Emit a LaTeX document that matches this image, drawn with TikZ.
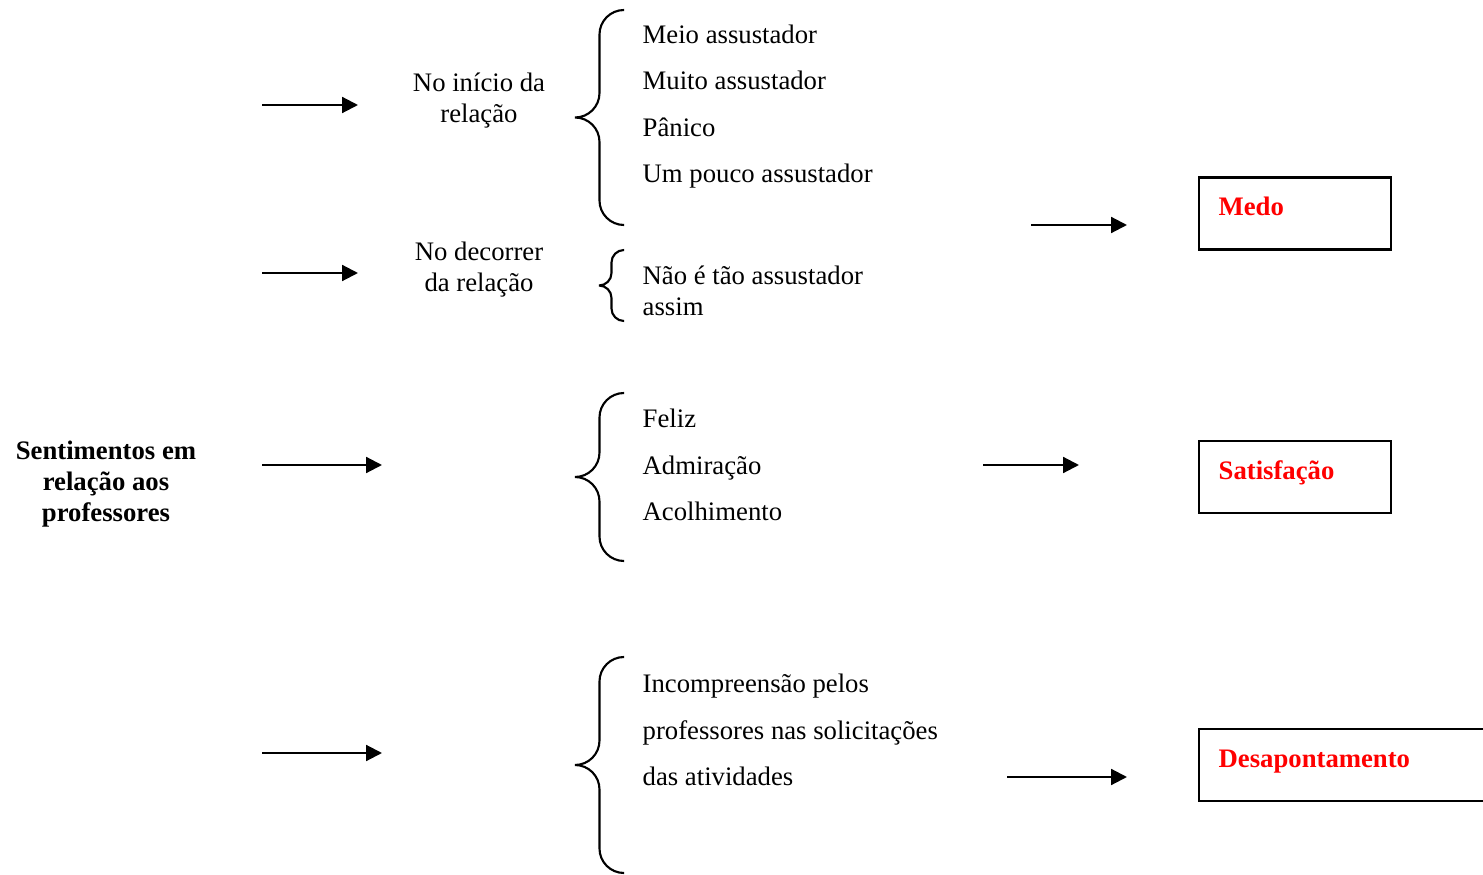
\documentclass[tikz,border=0pt]{standalone}
\usepackage{fontspec}
\setmainfont{Liberation Serif}
\usepackage{xcolor}
\usetikzlibrary{arrows.meta, calc}
\definecolor{tagred}{RGB}{255, 0, 0}

\begin{document}
\begin{tikzpicture}[
    topic/.style={font=\fontsize{7.6}{9.1}\selectfont, align=center, inner sep=0pt, anchor=base},
    mainTopic/.style={topic, font=\fontsize{7.6}{8.9}\selectfont\bfseries},
    itemList/.style={font=\fontsize{7.6}{13.2}\selectfont, align=left, inner sep=0pt, anchor=base west},
    tagBox/.style={draw, line width=0.6pt, minimum width=1.92cm, minimum height=0.72cm, inner sep=0pt},
    tagText/.style={font=\fontsize{7.6}{9}\selectfont\bfseries, text=tagred, inner sep=0pt, anchor=base west},
    edge/.style={draw, line width=0.6pt, -{Triangle[length=4.5pt, width=4.5pt]}},
    curl/.style={draw, line width=0.6pt}
]
\useasboundingbox (0,0) rectangle (14.83,8.74);
\clip (0,0) rectangle (14.83,8.74);

% Left: main topic (placed at the baseline of its last line)
\node[mainTopic] (sentimentos) at (1.06, 3.52) {Sentimentos em\\relação aos\\professores};

% Middle: phases of the relation
\node[topic] (inicio) at (4.79, 7.51) {No início da\\relação};
\node[topic] (decorrer) at (4.79, 5.82) {No decorrer\\da relação};

% Feelings lists
\node[itemList] (medoItems) at (6.42, 6.915) {Meio assustador\\Muito assustador\\Pânico\\Um pouco assustador};
\node[itemList, font=\fontsize{7.6}{8.8}\selectfont] (naoItems) at (6.42, 5.585) {Não é tão assustador\\assim};
\node[itemList] (satItems) at (6.42, 3.535) {Feliz\\Admiração\\Acolhimento};
\node[itemList] (desItems) at (6.42, 0.885) {Incompreensão pelos\\professores nas solicitações\\das atividades};

% Braces
\foreach \top/\bot/\r in {8.64/6.49/0.245, 6.24/5.53/0.125, 4.81/3.13/0.245, 2.17/0.01/0.245} {
    \pgfmathsetmacro\mid{(\top+\bot)/2}
    \draw[curl, rounded corners=\r cm] (6.24,\top) -- (6.24-\r,\top) -- (6.24-\r,\mid) -- (6.24-2*\r,\mid)
        (6.24-2*\r,\mid) -- (6.24-\r,\mid) -- (6.24-\r,\bot) -- (6.24,\bot);
}

% Right: categories
\node[tagBox] (medoBox) at (12.95, 6.605) {};
\node[tagText] (medo) at ($(medoBox.north west)+(0.2,-0.39)$) {Medo};
\node[tagBox] (satBox) at (12.95, 3.97) {};
\node[tagText] (sat) at ($(satBox.north west)+(0.2,-0.395)$) {Satisfação};
\node[tagBox, minimum width=3.6cm] (desBox) at (13.79, 1.09) {};
\node[tagText] (des) at ($(desBox.north west)+(0.2,-0.395)$) {Desapontamento};

% Arrow end points
\coordinate (a1s) at (2.62, 7.69); \coordinate (a1e) at (3.58, 7.69);
\coordinate (a2s) at (2.62, 6.01); \coordinate (a2e) at (3.58, 6.01);
\coordinate (a3s) at (2.62, 4.09); \coordinate (a3e) at (3.82, 4.09);
\coordinate (a4s) at (2.62, 1.21); \coordinate (a4e) at (3.82, 1.21);
\coordinate (a5s) at (10.31, 6.49); \coordinate (a5e) at (11.27, 6.49);
\coordinate (a6s) at (9.83, 4.09); \coordinate (a6e) at (10.79, 4.09);
\coordinate (a7s) at (10.07, 0.97); \coordinate (a7e) at (11.27, 0.97);

% Arrows
\draw[edge] (a1s) -- (a1e);
\draw[edge] (a2s) -- (a2e);
\draw[edge] (a3s) -- (a3e);
\draw[edge] (a4s) -- (a4e);
\draw[edge] (a5s) -- (a5e);
\draw[edge] (a6s) -- (a6e);
\draw[edge] (a7s) -- (a7e);

\end{tikzpicture}
\end{document}
